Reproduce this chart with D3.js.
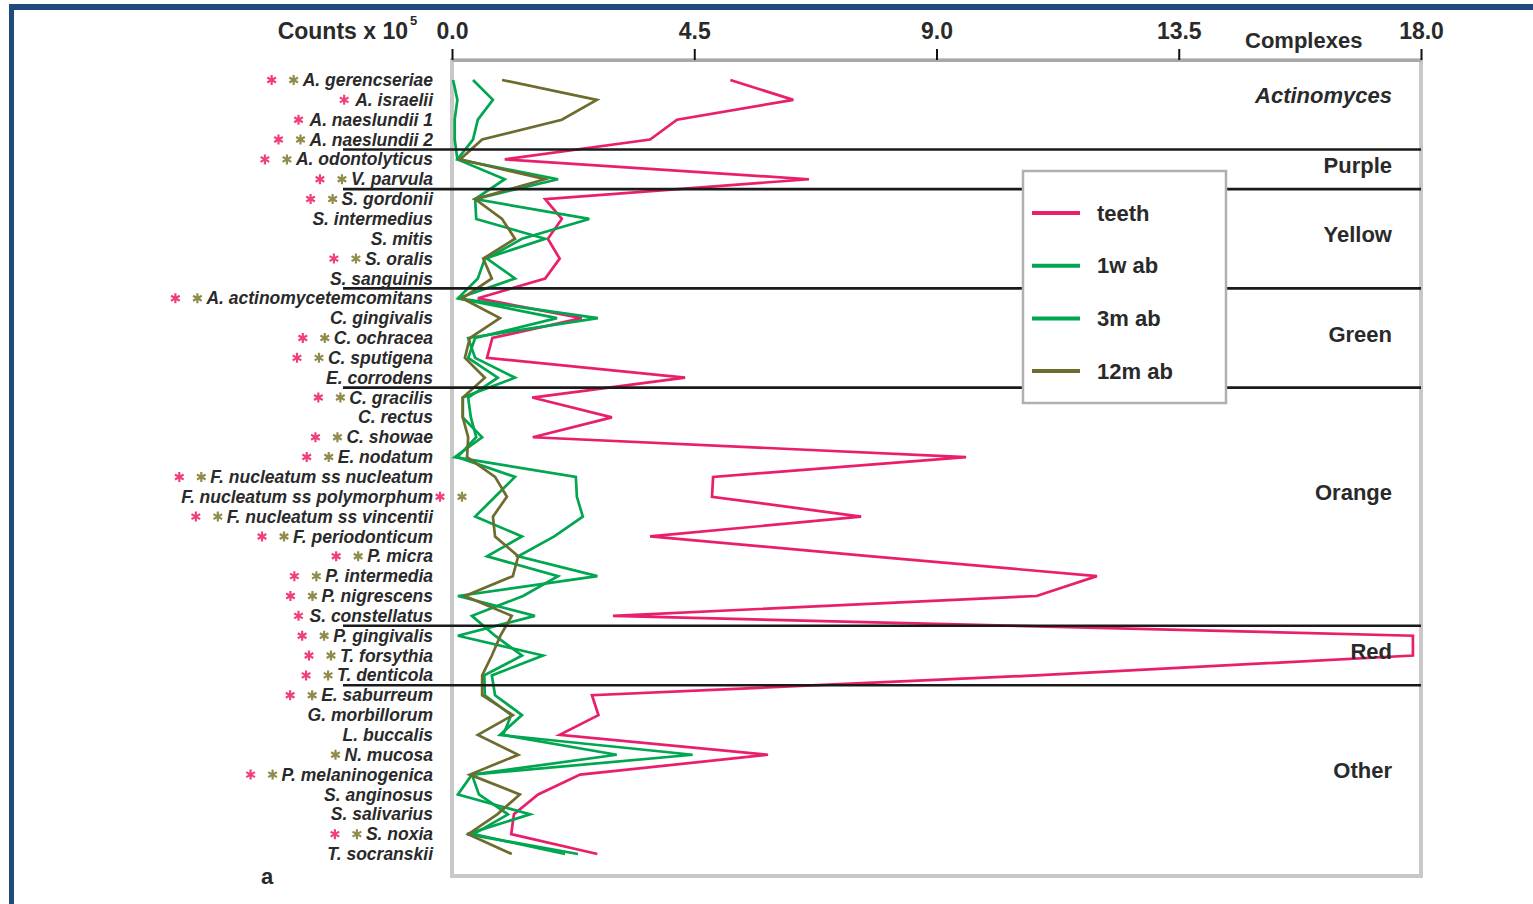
<!DOCTYPE html>
<html lang="en">
<head>
<meta charset="UTF-8">
<script src="https://d3js.org/d3.v7.min.js"></script>
<title>Counts by species</title>
<style>
  body { margin: 0; background: #fff; }
  svg text { font-family: "Liberation Sans", Arial, sans-serif; fill: #2a2a2a; font-weight: bold; }
</style>
</head>
<body>
<div id="chart"></div>
<script>
// species along the y axis (top to bottom)
var species = ["A. gerencseriae", "A. israelii", "A. naeslundii 1", "A. naeslundii 2",
  "A. odontolyticus", "V. parvula",
  "S. gordonii", "S. intermedius", "S. mitis", "S. oralis", "S. sanguinis",
  "A. actinomycetemcomitans", "C. gingivalis", "C. ochracea", "C. sputigena", "E. corrodens",
  "C. gracilis", "C. rectus", "C. showae", "E. nodatum", "F. nucleatum ss nucleatum",
  "F. nucleatum ss polymorphum", "F. nucleatum ss vincentii", "F. periodonticum", "P. micra",
  "P. intermedia", "P. nigrescens", "S. constellatus",
  "P. gingivalis", "T. forsythia", "T. denticola",
  "E. saburreum", "G. morbillorum", "L. buccalis", "N. mucosa", "P. melaninogenica",
  "S. anginosus", "S. salivarius", "S. noxia", "T. socranskii"];

// complexes and how many species each holds
var complexNames = ["Actinomyces", "Purple", "Yellow", "Green", "Orange", "Red", "Other"];
var complexSizes = [4, 2, 5, 5, 12, 3, 9];

// counts x 10^5
var teeth = [5.17, 6.34, 4.18, 3.68, 0.98, 6.63, 1.73, 2.04, 1.78, 2.0, 1.73, 0.48, 2.41, 0.75, 0.65, 4.33,
  1.49, 2.97, 1.5, 9.55, 4.85, 4.83, 7.6, 3.68, 7.8, 11.98, 10.86, 2.99, 17.85, 17.85, 10.85,
  2.6, 2.72, 2.0, 5.87, 2.38, 1.6, 1.15, 1.1, 2.7];
var ab1w = [0.02, 0.1, 0.05, 0.05, 0.1, 0.98, 0.43, 2.55, 1.3, 0.65, 1.17, 0.11, 2.71, 0.3, 0.43, 1.17,
  0.2, 0.2, 0.56, 0.05, 2.3, 2.32, 2.43, 1.9, 1.23, 2.7, 0.11, 1.54, 0.11, 1.69, 0.74,
  0.8, 1.3, 0.89, 4.47, 0.37, 0.11, 1.45, 0.28, 2.34];
var ab3m = [0.39, 0.76, 0.48, 0.39, 0.1, 1.97, 0.43, 0.45, 1.73, 0.61, 0.48, 0.11, 1.95, 0.43, 0.3, 0.85,
  0.3, 0.35, 0.45, 0.1, 1.17, 0.8, 0.43, 1.3, 0.65, 1.97, 1.32, 0.37, 0.8, 1.3, 0.6,
  0.61, 1.1, 0.95, 3.06, 0.37, 0.5, 1.04, 0.4, 2.1];
var ab12m = [0.93, 2.69, 2.04, 0.56, 0.15, 1.73, 0.43, 0.93, 1.17, 0.58, 0.74, 0.19, 0.89, 0.33, 0.24, 0.61,
  0.2, 0.2, 0.3, 0.28, 0.8, 1.02, 0.76, 0.8, 1.23, 1.13, 0.24, 1.11, 0.9, 0.74, 0.56,
  0.56, 1.13, 0.48, 1.23, 0.33, 1.26, 0.84, 0.3, 1.11];

// significance marks (1 = asterisk shown)
var sigTeeth = [1,1,1,1,1,1,1,0,0,1,0,1,0,1,1,0,1,0,1,1,1,1,1,1,1,1,1,1,1,1,1,1,0,0,0,1,0,0,1,0];
var sig12m   = [1,0,0,1,1,1,1,0,0,1,0,1,0,1,1,0,1,0,1,1,1,1,1,1,1,1,1,0,1,1,1,1,0,0,1,1,0,0,1,0];
var marksAfterLabel = ["F. nucleatum ss polymorphum"];

var xTicks = [0, 4.5, 9, 13.5, 18];

var series = [
  {name: "teeth", values: teeth, color: "#ea1f6c"},
  {name: "1w ab", values: ab1w, color: "#00a650"},
  {name: "3m ab", values: ab3m, color: "#00a650"},
  {name: "12m ab", values: ab12m, color: "#6d6b2d"}
];

var width = 1533, height = 904;
var svg = d3.select("#chart").append("svg")
  .attr("width", width).attr("height", height);

// page frame
svg.append("rect").attr("x", 9).attr("y", 4).attr("width", width - 9).attr("height", 6).attr("fill", "#214a7c");
svg.append("rect").attr("x", 9).attr("y", 4).attr("width", 5).attr("height", height).attr("fill", "#214a7c");

var x = d3.scaleLinear().domain([0, 18]).range([452, 1421]);
var y = d3.scalePoint().domain(species).range([80, 854]);

// plot box
svg.append("rect")
  .attr("x", 452).attr("y", 60).attr("width", 969).attr("height", 816)
  .attr("fill", "#fff").attr("stroke", "#c8c8c8").attr("stroke-width", 4);

// data lines
var line = d3.line()
  .x(function (d) { return x(d.v); })
  .y(function (d) { return y(d.s); });

svg.append("g").selectAll("path")
  .data(series)
  .enter().append("path")
  .attr("fill", "none")
  .attr("stroke", function (d) { return d.color; })
  .attr("stroke-width", 2.7)
  .attr("stroke-linejoin", "miter")
  .attr("d", function (d) {
    return line(d.values.map(function (v, i) { return {v: v, s: species[i]}; }));
  });

// complex separators and names
var start = 0;
var complexes = complexNames.map(function (name, k) {
  var c = {name: name, first: start, last: start + complexSizes[k] - 1};
  start += complexSizes[k];
  return c;
});
var step = y.step();

svg.append("g").selectAll("line")
  .data(complexes.slice(0, -1))
  .enter().append("line")
  .attr("x1", 343).attr("x2", 1421)
  .attr("y1", function (d) { return y(species[d.last]) + step / 2; })
  .attr("y2", function (d) { return y(species[d.last]) + step / 2; })
  .attr("stroke", "#1a1a1a").attr("stroke-width", 2.6);

svg.append("g").selectAll("text")
  .data(complexes)
  .enter().append("text")
  .attr("x", 1392)
  .attr("y", function (d) {
    var n = d.last - d.first + 1;
    var c = (n > 2 && n % 2 === 0) ? y(species[d.first + n / 2 - 1])
      : (y(species[d.first]) + y(species[d.last])) / 2;
    return c - 4;
  })
  .attr("dominant-baseline", "central")
  .attr("text-anchor", "end")
  .style("font-size", "22px")
  .style("font-style", function (d) { return d.name === "Actinomyces" ? "italic" : "normal"; })
  .text(function (d) { return d.name; });

// top axis
var xAxis = svg.append("g")
  .attr("transform", "translate(0,60)")
  .call(d3.axisTop(x).tickValues(xTicks).tickFormat(d3.format(".1f"))
    .tickSize(11).tickSizeOuter(0).tickPadding(10));
xAxis.select(".domain").attr("stroke", "#a8a8a8").attr("stroke-width", 3);
xAxis.selectAll(".tick line").attr("stroke", "#111").attr("stroke-width", 2);
xAxis.selectAll(".tick text")
  .style("font-size", "23px").style("font-family", "Liberation Sans, Arial, sans-serif")
  .style("font-weight", "bold").attr("fill", "#2a2a2a");

svg.append("text").attr("x", 408).attr("y", 39)
  .attr("text-anchor", "end").style("font-size", "23px").text("Counts x 10");
svg.append("text").attr("x", 410).attr("y", 25).style("font-size", "13px").text("5");
svg.append("text").attr("x", 1245).attr("y", 48).style("font-size", "22px").text("Complexes");

// species labels
var yAxis = svg.append("g")
  .attr("transform", "translate(452,0)")
  .call(d3.axisLeft(y).tickSize(0).tickPadding(19));
yAxis.select(".domain").remove();
yAxis.selectAll(".tick text")
  .style("font-size", "17.5px").style("font-style", "italic")
  .style("font-family", "Liberation Sans, Arial, sans-serif")
  .style("font-weight", "bold").attr("fill", "#2a2a2a");

// asterisks
var star = d3.symbol().type(d3.symbolAsterisk || d3.symbolCross).size(70);
var marks = [];
yAxis.selectAll(".tick text").each(function (s) {
  var i = species.indexOf(s);
  var len = this.getComputedTextLength();
  var left = 433 - len;
  if (marksAfterLabel.indexOf(s) >= 0) {
    if (sigTeeth[i]) marks.push({x: 440, y: y(s), c: "#f0407c"});
    if (sig12m[i]) marks.push({x: 462, y: y(s), c: "#8f8c4c"});
    return;
  }
  if (sig12m[i]) {
    marks.push({x: left - 9, y: y(s), c: "#8f8c4c"});
    if (sigTeeth[i]) marks.push({x: left - 31, y: y(s), c: "#f0407c"});
  } else if (sigTeeth[i]) {
    marks.push({x: left - 11, y: y(s), c: "#f0407c"});
  }
});
svg.append("g").selectAll("path")
  .data(marks)
  .enter().append("path")
  .attr("transform", function (d) { return "translate(" + d.x + "," + d.y + ")"; })
  .attr("d", star)
  .attr("fill", "none")
  .attr("stroke", function (d) { return d.c; })
  .attr("stroke-width", 2.2);

// legend
var legend = svg.append("g").attr("transform", "translate(1023,171)");
legend.append("rect").attr("width", 203).attr("height", 232)
  .attr("fill", "#fff").attr("stroke", "#b0b0b0").attr("stroke-width", 2.5);
var item = legend.selectAll("g.item")
  .data(series)
  .enter().append("g")
  .attr("class", "item")
  .attr("transform", function (d, i) { return "translate(0," + (42 + i * 52.7) + ")"; });
item.append("line").attr("x1", 9).attr("x2", 57)
  .attr("stroke", function (d) { return d.color; }).attr("stroke-width", 4);
item.append("text").attr("x", 74).attr("dominant-baseline", "central")
  .style("font-size", "22px").text(function (d) { return d.name; });

svg.append("text").attr("x", 261).attr("y", 876).attr("dominant-baseline", "central")
  .style("font-size", "22px").text("a");
</script>
</body>
</html>
